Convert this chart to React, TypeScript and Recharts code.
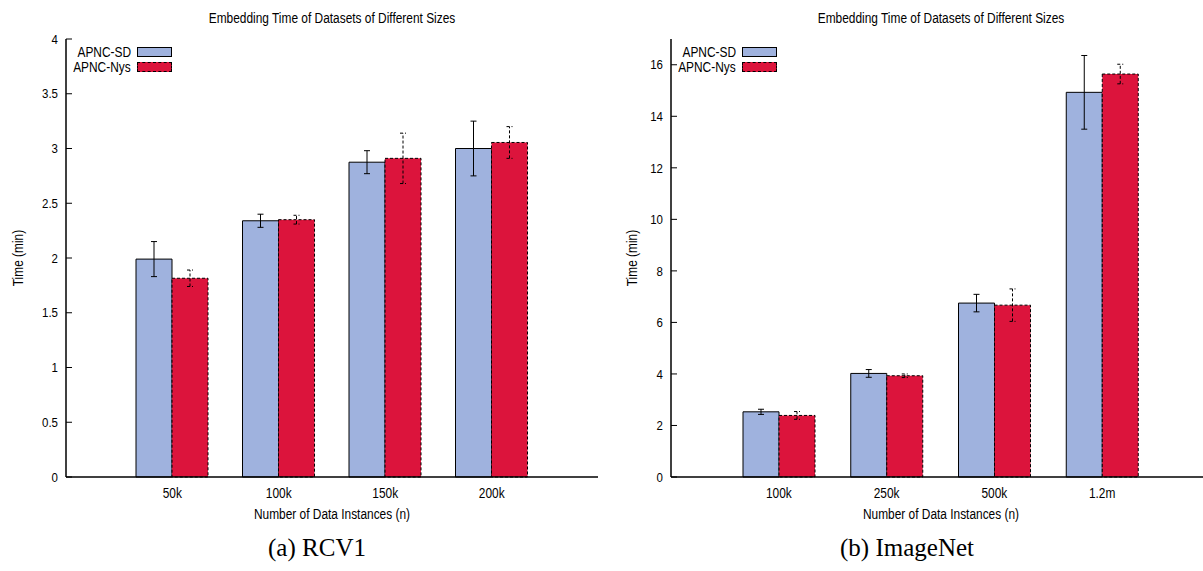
import { BarChart, Bar, XAxis, YAxis, ErrorBar } from 'recharts'

// RCV1 embedding times (minutes)
const rcv1Sizes = ['50k', '100k', '150k', '200k']
const rcv1Sd = [1.99, 2.34, 2.875, 3.0]
const rcv1SdErr = [0.16, 0.06, 0.105, 0.25]
const rcv1Nys = [1.815, 2.35, 2.91, 3.055]
const rcv1NysErr = [0.075, 0.04, 0.23, 0.145]
const rcv1Ticks = [0, 0.5, 1, 1.5, 2, 2.5, 3, 3.5, 4]

// ImageNet embedding times (minutes)
const imagenetSizes = ['100k', '250k', '500k', '1.2m']
const imagenetSd = [2.53, 4.02, 6.75, 14.93]
const imagenetSdErr = [0.1, 0.15, 0.34, 1.43]
const imagenetNys = [2.39, 3.93, 6.67, 15.64]
const imagenetNysErr = [0.15, 0.07, 0.63, 0.38]
const imagenetTicks = [0, 2, 4, 6, 8, 10, 12, 14, 16]

const SANS = '"Liberation Sans", Arial, sans-serif'
const SERIF = '"Liberation Serif", "Times New Roman", serif'
const SD_FILL = '#9FB2DE'
const NYS_FILL = '#DC143C'

// gnuplot-ish condensed text
const SQUEEZE = 0.85
const TICK_MARGIN = 8

// y tick: label left of the axis, short tick mark pointing into the plot
const LeftTick = (props: any) => {
  const { x, y, payload } = props
  return (
    <g>
      <line x1={x + TICK_MARGIN} x2={x + TICK_MARGIN + 6} y1={y} y2={y} stroke="#000" />
      <text
        transform={`translate(${x},${y}) scale(${SQUEEZE},1)`}
        dy="0.35em"
        textAnchor="end"
        fontSize={13.5}
        fontFamily={SANS}
        fill="#000"
      >
        {payload.value}
      </text>
    </g>
  )
}

// mirrored tick on the right border, no label
const RightTick = (props: any) => {
  const { x, y } = props
  return <line x1={x - 6} x2={x} y1={y} y2={y} stroke="#000" />
}

const BottomTick = (props: any) => {
  const { x, y, payload } = props
  return (
    <text
      transform={`translate(${x},${y}) scale(${SQUEEZE},1)`}
      dy="0.71em"
      textAnchor="middle"
      fontSize={14}
      fontFamily={SANS}
      fill="#000"
    >
      {payload.value}
    </text>
  )
}

const textStyle = {
  fontSize: 14,
  fontFamily: SANS,
  lineHeight: '18px',
  whiteSpace: 'nowrap' as const
}

type PanelProps = {
  left: number
  width: number
  marginRight: number
  pad: number
  sizes: string[]
  sd: number[]
  sdErr: number[]
  nys: number[]
  nysErr: number[]
  yMax: number
  ticks: number[]
  yLabelX: number
}

const LegendRow = ({ label, dashed, fill, top }: { label: string; dashed: boolean; fill: string; top: number }) => (
  <div style={{ position: 'absolute', left: 0, top, width: 200, height: 16 }}>
    <div
      style={{
        ...textStyle,
        position: 'absolute',
        right: 200 - 131,
        top: -1,
        transform: `scaleX(${SQUEEZE})`,
        transformOrigin: 'right center'
      }}
    >
      {label}
    </div>
    <div
      style={{
        position: 'absolute',
        left: 137,
        top: 3,
        width: 33,
        height: 8,
        background: fill,
        border: `1px ${dashed ? 'dashed' : 'solid'} #000`
      }}
    />
  </div>
)

const Panel = ({ left, width, marginRight, pad, sizes, sd, sdErr, nys, nysErr, yMax, ticks, yLabelX }: PanelProps) => {
  const data = sizes.map((n, i) => ({ n, sd: sd[i], sdErr: sdErr[i], nys: nys[i], nysErr: nysErr[i] }))
  const plotLeft = 66
  const plotRight = width - marginRight
  const plotMid = (plotLeft + plotRight) / 2

  return (
    <div style={{ position: 'absolute', left, top: 0, width, height: 530 }}>
      <div
        style={{
          ...textStyle,
          position: 'absolute',
          left: plotMid - 200,
          width: 400,
          top: 9,
          textAlign: 'center',
          transform: `scaleX(${SQUEEZE})`
        }}
      >
        Embedding Time of Datasets of Different Sizes
      </div>

      <BarChart
        width={width}
        height={500}
        data={data}
        margin={{ top: 39, right: marginRight, left: 0, bottom: 0 }}
        barGap={0}
        style={{ position: 'absolute', left: 0, top: 0 }}
      >
        <XAxis
          dataKey="n"
          padding={{ left: pad, right: pad }}
          height={23}
          tickLine={false}
          tickSize={0}
          tickMargin={11}
          axisLine={{ stroke: '#000', strokeWidth: 1.5 }}
          tick={<BottomTick />}
        />
        <XAxis
          xAxisId="top"
          orientation="top"
          dataKey="n"
          height={0}
          tick={false}
          tickLine={false}
          axisLine={{ stroke: '#000', strokeWidth: 1.5 }}
        />
        <YAxis
          width={66}
          domain={[0, yMax]}
          ticks={ticks}
          interval={0}
          tickSize={0}
          tickMargin={TICK_MARGIN}
          tickLine={false}
          axisLine={{ stroke: '#000', strokeWidth: 1.5 }}
          tick={<LeftTick />}
        />
        <YAxis
          yAxisId="mirror"
          orientation="right"
          width={0}
          domain={[0, yMax]}
          ticks={ticks}
          interval={0}
          tickSize={0}
          tickMargin={0}
          tickLine={false}
          axisLine={{ stroke: '#000', strokeWidth: 1.5 }}
          tick={<RightTick />}
        />
        <Bar dataKey="sd" fill={SD_FILL} stroke="#000" strokeWidth={1} barSize={36} isAnimationActive={false}>
          <ErrorBar dataKey="sdErr" width={3} stroke="#000" strokeWidth={1} />
        </Bar>
        <Bar
          dataKey="nys"
          fill={NYS_FILL}
          stroke="#000"
          strokeWidth={1}
          strokeDasharray="3 2"
          barSize={36}
          isAnimationActive={false}
        >
          <ErrorBar dataKey="nysErr" width={3} stroke="#000" strokeWidth={1} strokeDasharray="3 2" />
        </Bar>
      </BarChart>

      <LegendRow label="APNC-SD" dashed={false} fill={SD_FILL} top={44} />
      <LegendRow label="APNC-Nys" dashed={true} fill={NYS_FILL} top={59} />

      <div
        style={{
          ...textStyle,
          position: 'absolute',
          left: yLabelX - 60,
          top: 258 - 9,
          width: 120,
          textAlign: 'center',
          transform: `rotate(-90deg) scaleX(${SQUEEZE})`
        }}
      >
        Time (min)
      </div>

      <div
        style={{
          ...textStyle,
          position: 'absolute',
          left: plotMid - 200,
          width: 400,
          top: 505,
          textAlign: 'center',
          transform: `scaleX(${SQUEEZE})`
        }}
      >
        Number of Data Instances (n)
      </div>
    </div>
  )
}

export default function App() {
  return (
    <div
      style={{
        position: 'absolute',
        left: 0,
        top: 0,
        width: 1203,
        height: 571,
        overflow: 'hidden',
        background: '#fff'
      }}
    >
      <Panel
        left={0}
        width={620}
        marginRight={22}
        pad={53}
        sizes={rcv1Sizes}
        sd={rcv1Sd}
        sdErr={rcv1SdErr}
        nys={rcv1Nys}
        nysErr={rcv1NysErr}
        yMax={4}
        ticks={rcv1Ticks}
        yLabelX={18}
      />
      <Panel
        left={605}
        width={620}
        marginRight={15}
        pad={54}
        sizes={imagenetSizes}
        sd={imagenetSd}
        sdErr={imagenetSdErr}
        nys={imagenetNys}
        nysErr={imagenetNysErr}
        yMax={17}
        ticks={imagenetTicks}
        yLabelX={27}
      />
      <div style={{ position: 'absolute', left: 217, width: 200, top: 534, textAlign: 'center', fontSize: 25, fontFamily: SERIF }}>
        (a) RCV1
      </div>
      <div style={{ position: 'absolute', left: 807, width: 200, top: 534, textAlign: 'center', fontSize: 25, fontFamily: SERIF }}>
        (b) ImageNet
      </div>
    </div>
  )
}
